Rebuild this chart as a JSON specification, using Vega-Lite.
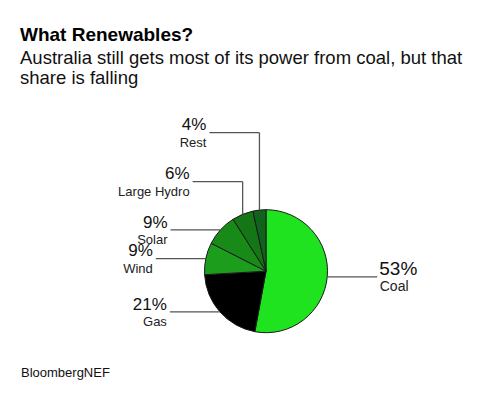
{
  "$schema": "https://vega.github.io/schema/vega-lite/v6.json",
  "width": 488,
  "height": 298,
  "autosize": "none",
  "padding": {"top": 95, "left": 0, "right": 0, "bottom": 0},
  "background": "white",
  "config": {"view": {"stroke": null}, "font": "Liberation Sans"},
  "title": {
    "text": "What Renewables?",
    "subtitle": ["Australia still gets most of its power from coal, but that", "share is falling"],
    "anchor": "start",
    "frame": "group",
    "font": "Liberation Sans",
    "fontSize": 19,
    "fontWeight": "bold",
    "color": "#000000",
    "subtitleFont": "Liberation Sans",
    "subtitleFontSize": 18.5,
    "subtitleColor": "#111111",
    "subtitleLineHeight": 19.5,
    "subtitlePadding": 4,
    "offset": 8,
    "dx": 20
  },
  "layer": [
    {
      "data": {
        "values": [
          {"source": "Coal", "share": 52.9, "label": "53%", "ord": 1},
          {"source": "Gas", "share": 21.2, "label": "21%", "ord": 2},
          {"source": "Wind", "share": 8.4, "label": "9%", "ord": 3},
          {"source": "Solar", "share": 8.5, "label": "9%", "ord": 4},
          {"source": "Large Hydro", "share": 5.6, "label": "6%", "ord": 5},
          {"source": "Rest", "share": 3.4, "label": "4%", "ord": 6}
        ]
      },
      "transform": [
        {"window": [{"op": "sum", "field": "share", "as": "cum"}], "sort": [{"field": "ord"}], "frame": [null, 0]},
        {"calculate": "2*PI*(datum.cum - datum.share/2)/100", "as": "mid"},
        {"calculate": "61.5*sin(datum.mid)", "as": "ex"},
        {"calculate": "61.5*cos(datum.mid)", "as": "ey"},
        {"calculate": "datum.ex > 0 ? 'R' : 'L'", "as": "side"},
        {"calculate": "datum.ey > 50 ? (datum.ord == 6 ? 138.5 : 89.5) : datum.ey", "as": "ly"},
        {"calculate": "datum.ex + (datum.side == 'R' ? 50 : -50)", "as": "lx"}
      ],
      "layer": [
        {
          "mark": {"type": "arc", "outerRadius": 61.5, "stroke": "#1a1a1a", "strokeWidth": 1},
          "encoding": {
            "x": {"datum": 0, "type": "quantitative", "scale": {"domain": [-266, 222], "nice": false, "zero": false}, "axis": null},
            "y": {"datum": 0, "type": "quantitative", "scale": {"domain": [-121.8, 176.2], "nice": false, "zero": false}, "axis": null},
            "theta": {"field": "share", "type": "quantitative"},
            "order": {"field": "ord", "type": "quantitative"},
            "color": {
              "field": "source",
              "type": "nominal",
              "scale": {
                "domain": ["Coal", "Gas", "Wind", "Solar", "Large Hydro", "Rest"],
                "range": ["#1fe31f", "#000000", "#1c9e1c", "#178a17", "#147614", "#11621a"]
              },
              "legend": null
            }
          }
        },
        {
          "mark": {"type": "rule", "color": "#555555", "strokeWidth": 1.3},
          "encoding": {
            "x": {"field": "ex", "type": "quantitative", "scale": {"domain": [-266, 222], "nice": false, "zero": false}, "axis": null},
            "y": {"field": "ey", "type": "quantitative", "scale": {"domain": [-121.8, 176.2], "nice": false, "zero": false}, "axis": null},
            "x2": {"field": "ex"},
            "y2": {"field": "ly"}
          }
        },
        {
          "mark": {"type": "rule", "color": "#555555", "strokeWidth": 1.3},
          "encoding": {
            "x": {"field": "ex", "type": "quantitative", "scale": {"domain": [-266, 222], "nice": false, "zero": false}, "axis": null},
            "x2": {"field": "lx"},
            "y": {"field": "ly", "type": "quantitative", "scale": {"domain": [-121.8, 176.2], "nice": false, "zero": false}, "axis": null}
          }
        },
        {
          "transform": [{"filter": "datum.side == 'L'"}],
          "mark": {"type": "text", "align": "right", "baseline": "alphabetic", "fontSize": 17, "color": "#111111", "dx": -3, "dy": -2.3},
          "encoding": {
            "x": {"field": "lx", "type": "quantitative", "scale": {"domain": [-266, 222], "nice": false, "zero": false}, "axis": null},
            "y": {"field": "ly", "type": "quantitative", "scale": {"domain": [-121.8, 176.2], "nice": false, "zero": false}, "axis": null},
            "text": {"field": "label"}
          }
        },
        {
          "transform": [{"filter": "datum.side == 'L'"}],
          "mark": {"type": "text", "align": "right", "baseline": "alphabetic", "fontSize": 13, "color": "#222222", "dx": -3, "dy": 14},
          "encoding": {
            "x": {"field": "lx", "type": "quantitative", "scale": {"domain": [-266, 222], "nice": false, "zero": false}, "axis": null},
            "y": {"field": "ly", "type": "quantitative", "scale": {"domain": [-121.8, 176.2], "nice": false, "zero": false}, "axis": null},
            "text": {"field": "source"}
          }
        },
        {
          "transform": [{"filter": "datum.side == 'R'"}],
          "mark": {"type": "text", "align": "left", "baseline": "alphabetic", "fontSize": 19, "color": "#111111", "dx": 2, "dy": -2},
          "encoding": {
            "x": {"field": "lx", "type": "quantitative", "scale": {"domain": [-266, 222], "nice": false, "zero": false}, "axis": null},
            "y": {"field": "ly", "type": "quantitative", "scale": {"domain": [-121.8, 176.2], "nice": false, "zero": false}, "axis": null},
            "text": {"field": "label"}
          }
        },
        {
          "transform": [{"filter": "datum.side == 'R'"}],
          "mark": {"type": "text", "align": "left", "baseline": "alphabetic", "fontSize": 14, "color": "#222222", "dx": 2.5, "dy": 14},
          "encoding": {
            "x": {"field": "lx", "type": "quantitative", "scale": {"domain": [-266, 222], "nice": false, "zero": false}, "axis": null},
            "y": {"field": "ly", "type": "quantitative", "scale": {"domain": [-121.8, 176.2], "nice": false, "zero": false}, "axis": null},
            "text": {"field": "source"}
          }
        }
      ]
    },
    {
      "data": {"values": [{"note": "BloombergNEF"}]},
      "mark": {"type": "text", "align": "left", "baseline": "alphabetic", "fontSize": 13, "color": "#111111"},
      "encoding": {
        "x": {"datum": -245, "type": "quantitative", "scale": {"domain": [-266, 222], "nice": false, "zero": false}, "axis": null},
        "y": {"datum": -106, "type": "quantitative", "scale": {"domain": [-121.8, 176.2], "nice": false, "zero": false}, "axis": null},
        "text": {"field": "note"}
      }
    }
  ]
}
